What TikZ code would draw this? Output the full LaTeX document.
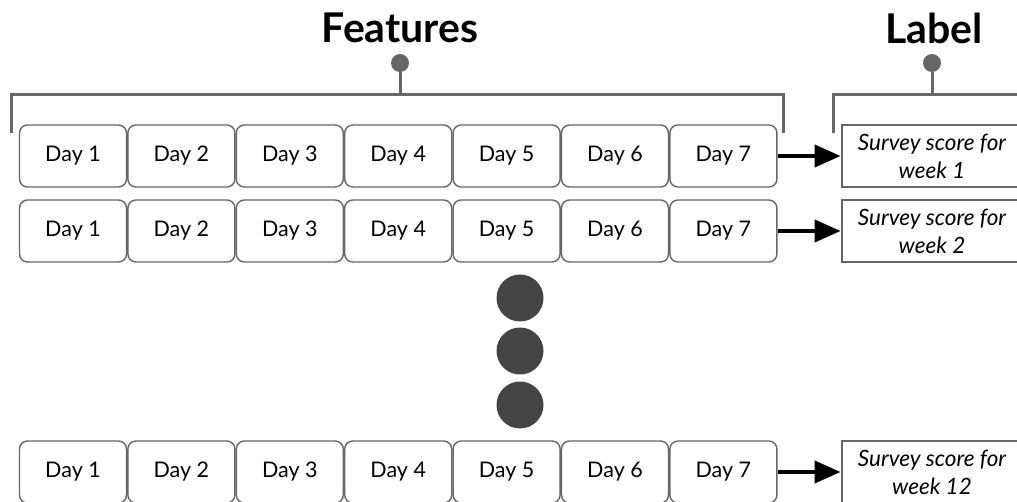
\documentclass[tikz,border=0pt]{standalone}
\usepackage{fontspec}
\setmainfont{Lato}
\usetikzlibrary{positioning,arrows.meta}
\definecolor{edgegray}{HTML}{666666}
\definecolor{dotgray}{HTML}{444444}
\begin{document}
\begin{tikzpicture}[x=1pt, y=-1pt, node distance=0pt,
    day/.style = {draw=edgegray, line width=1.4pt, rounded corners=8pt, minimum width=107pt, minimum height=62pt, font=\fontsize{21.5}{24}\selectfont},
    score/.style = {draw=edgegray, line width=2.8pt, minimum width=180pt, minimum height=62pt, align=center, inner sep=1pt, font=\fontsize{22.5}{28}\selectfont\itshape},
    title/.style = {font=\fontsize{41}{44}\selectfont\bfseries},
    brace/.style = {draw=edgegray, line width=3pt},
    blob/.style = {circle, fill=dotgray, minimum size=47pt, inner sep=0pt}]
    \useasboundingbox (0,0) rectangle (1017,502);
    % three rows of seven days
    \foreach \r/\y in {1/156, 2/231, 3/472} {
        \node[day] (d\r-1) at (73,\y) {Day 1};
        \foreach \i [remember=\i as \j (initially 1)] in {2,...,7}
            \node[day, right=of d\r-\j] (d\r-\i) {Day \i};
    }
    % labels
    \node[score] (w1) at (932,156) {Survey score for\\week 1};
    \node[score] (w2) at (932,231) {Survey score for\\week 2};
    \node[score] (w3) at (932,472) {Survey score for\\week 12};
    \foreach \r/\w in {1/w1, 2/w2, 3/w3}
        \draw[line width=4pt, -{Triangle[length=26pt, width=22pt]}] (d\r-7) -- (\w);
    % dots
    \node[blob] (dot1) at (520,298) {};
    \node[blob] (dot2) at (520,351) {};
    \node[blob] (dot3) at (520,405) {};
    % brackets
    \node[title] (feat) at (400,28) {Features};
    \node[title] (lab) at (934,28) {Label};
    \coordinate (fl) at (11,133);
    \coordinate (fr) at (783,133);
    \coordinate (ll) at (833,133);
    \coordinate (lr) at (1030,95);
    \node[circle, fill=edgegray, minimum size=18pt, inner sep=0pt] (fpin) at (400,63) {};
    \node[circle, fill=edgegray, minimum size=18pt, inner sep=0pt] (lpin) at (932,63) {};
    \draw[brace] (fl) |- (fr |- 0,95) -- (fr);
    \draw[brace] (fpin) -- (fpin |- 0,95);
    \draw[brace] (ll) |- (lr);
    \draw[brace] (lpin) -- (lpin |- 0,95);
\end{tikzpicture}
\end{document}
